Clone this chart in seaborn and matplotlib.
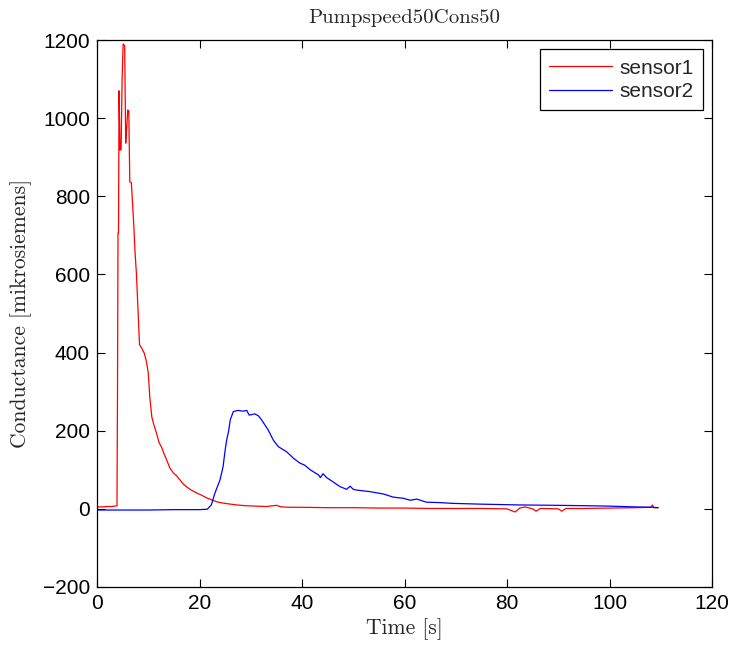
import matplotlib
matplotlib.use("Agg")
import matplotlib.pyplot as plt
import seaborn as sns
import pandas as pd

sns.set_style("ticks")
plt.rcParams['font.family'] = ['Liberation Sans', 'DejaVu Sans']

title = "Pumpspeed50Cons50"
xlabel = "Time [s]"
ylabel = "Conductance [mikrosiemens]"
series_names = ["sensor1", "sensor2"]

s1_time = [0, 1, 2, 3, 3.9, 4.0, 4.1, 4.2, 4.3, 4.5, 4.7, 4.9, 5.1, 5.4, 5.6, 5.8,
           6.0, 6.2, 6.4, 6.7, 6.9, 7.2, 7.4, 7.7, 8.0, 8.3, 8.7, 9.2, 9.6, 10.0,
           10.3, 10.7, 11.1, 11.6, 12.1, 12.6, 13.1, 13.6, 14.2, 14.9, 15.5, 16.2,
           16.8, 17.5, 18.4, 19.4, 20.4, 21.4, 22.4, 23.4, 24.5, 25.5, 27.3, 29,
           31, 33, 35, 36, 37.7, 40, 45, 50, 55, 60, 65, 70, 75, 80, 81.6, 82.5,
           83.5, 85, 85.7, 86.5, 90, 90.7, 91.5, 95, 100, 105, 108, 108.4, 108.6, 109.5]
s1_value = [5, 5, 6, 6, 8, 300, 706, 706, 1070, 918, 920, 1100, 1190, 1185, 936, 975,
            1021, 1018, 837, 835, 790, 720, 662, 600, 509, 420, 412, 399, 380, 348,
            286, 235, 215, 194, 170, 158, 140, 125, 105, 92, 85, 74, 64, 56, 48, 41,
            35, 28, 23, 18, 15, 13, 10, 8, 7, 6, 9, 5, 4, 4, 3, 3, 2, 2, 1, 1, 1, 0,
            -8, 2, 5, 0, -6, 1, 0, -6, 1, 1, 2, 3, 4, 10, 3, 3]

s2_time = [0, 5, 10, 15, 20, 21.5, 22.3, 23.0, 24.0, 24.6, 25.0, 25.3, 25.7, 26.0,
           26.6, 27.5, 28.5, 29.2, 29.7, 30.8, 31.5, 32.1, 33.4, 34.4, 35.4, 37.0,
           38.3, 39.6, 40.5, 41.6, 43.2, 43.6, 44.1, 44.8, 45.5, 47.4, 48.7, 49.4,
           50.0, 50.7, 53.3, 55.9, 57.8, 59.8, 61.1, 62.4, 64.3, 66.9, 69.5, 75,
           82.5, 90, 95.5, 100, 105, 108.5, 109.5]
s2_value = [-3, -3, -3, -2, -2, -1, 10, 40, 74, 108, 150, 176, 200, 228,
            249, 252, 250, 252, 240, 243, 238, 228, 202, 176, 159, 146,
            130, 117, 112, 100, 87, 80, 90, 80, 74, 57, 50, 58,
            50, 48, 44, 38, 30, 27, 22, 25, 17, 16, 14, 12,
            10, 9, 8, 7, 5, 4, 3]

df = pd.concat([
    pd.DataFrame({"Time": s1_time, "Value": s1_value, "Sensor": series_names[0]}),
    pd.DataFrame({"Time": s2_time, "Value": s2_value, "Sensor": series_names[1]}),
], ignore_index=True)

fig = plt.figure(figsize=(7.3, 6.48), dpi=100)
ax = fig.add_axes([97/730, 1 - 587/648, (712 - 97)/730, (587 - 40)/648])

sns.lineplot(data=df, x="Time", y="Value", hue="Sensor", estimator=None, sort=False,
             palette={"sensor1": "#ff0000", "sensor2": "#0000ff"}, linewidth=0.9, ax=ax)

ax.set_xlim(0, 120)
ax.set_ylim(-200, 1200)
ax.set_xticks(range(0, 121, 20))
ax.set_yticks(range(-200, 1201, 200))
ax.tick_params(direction="in", length=6, width=0.8, top=True, right=True,
               labelsize=15, colors="black", pad=5)
for sp in ax.spines.values():
    sp.set_visible(True)
    sp.set_linewidth(0.9)
    sp.set_color("black")

ax.set_title(title, fontfamily="cmr10", fontsize=15, pad=12)
ax.set_xlabel(xlabel, fontfamily="cmr10", fontsize=15.5, labelpad=4)
ax.set_ylabel(ylabel, fontfamily="cmr10", fontsize=15.5, labelpad=8)

leg = ax.legend(loc="upper right", fontsize=15, frameon=True, fancybox=False,
                edgecolor="black", framealpha=1, borderaxespad=0.45,
                handlelength=3.0, handletextpad=0.35, borderpad=0.45,
                labelspacing=0.2)
leg.get_frame().set_linewidth(0.9)
for line in leg.get_lines():
    line.set_linewidth(0.9)

fig.savefig("out.png", dpi=100)
